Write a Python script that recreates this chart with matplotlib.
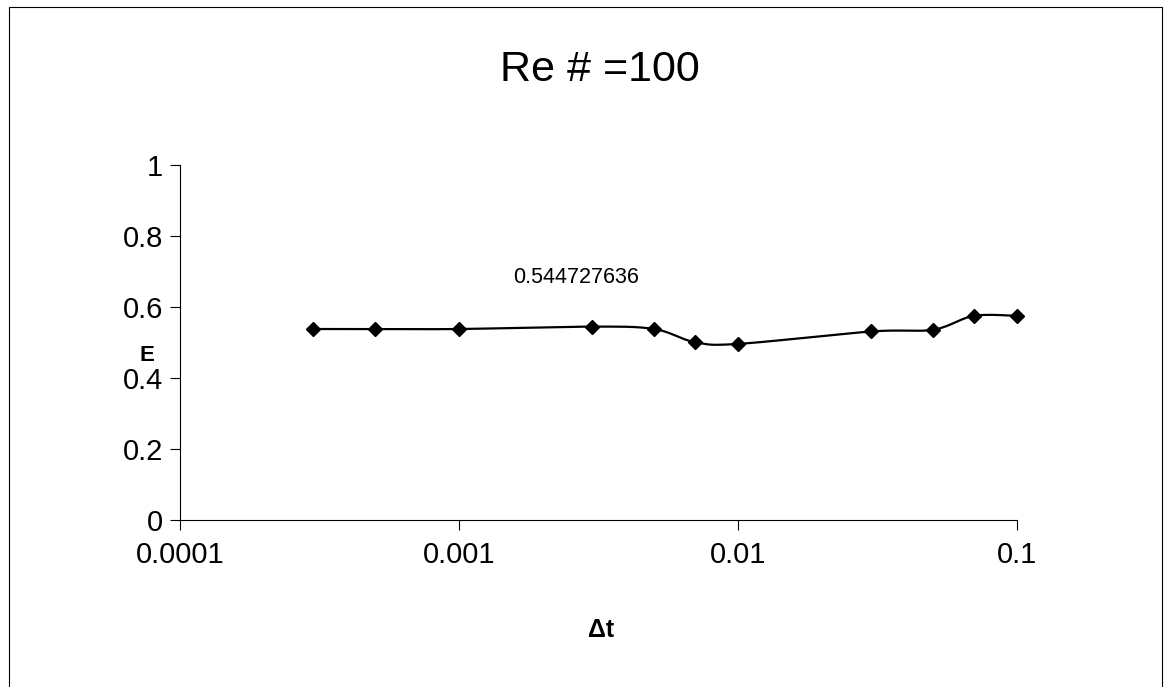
import numpy as np
import matplotlib
matplotlib.use("Agg")
import matplotlib.pyplot as plt
from matplotlib.patches import Rectangle

# Time step sizes and the resulting efficiency E
dt_values = [0.0003, 0.0005, 0.001, 0.003, 0.005, 0.007, 0.01, 0.03, 0.05, 0.07, 0.1]
e_values = [0.538, 0.538, 0.538, 0.544727636, 0.538, 0.501, 0.496, 0.531, 0.536, 0.575, 0.575]
x_ticks = [0.0001, 0.001, 0.01, 0.1]
x_tick_labels = ["0.0001", "0.001", "0.01", "0.1"]
y_ticks = [0, 0.2, 0.4, 0.6, 0.8, 1]
y_tick_labels = ["0", "0.2", "0.4", "0.6", "0.8", "1"]
labelled_index = 3

plt.rcParams["font.family"] = ["Liberation Sans", "DejaVu Sans"]

W, H = 1165, 687
fig = plt.figure(figsize=(W / 100, H / 100), dpi=100)
fig.patch.set_facecolor("white")

# Chart-area border
fig.patches.append(Rectangle((9 / W, -0.01), (1162 - 9) / W, 1 - 7 / H + 0.01,
                             transform=fig.transFigure, fill=False,
                             edgecolor="black", linewidth=0.8))

ax = fig.add_axes([180 / W, 1 - 520 / H, (1017 - 180) / W, (520 - 165) / H])
ax.set_xscale("log")
ax.set_xlim(0.0001, 0.1)
ax.set_ylim(0, 1)


def smooth_curve(xs, ys, n=30):
    """Catmull-Rom style smoothing in log-x space."""
    lx = np.log10(np.asarray(xs, float))
    y = np.asarray(ys, float)
    pts = np.column_stack([lx, y])
    out = []
    for i in range(len(pts) - 1):
        p0 = pts[i - 1] if i > 0 else pts[i]
        p1 = pts[i]
        p2 = pts[i + 1]
        p3 = pts[i + 2] if i + 2 < len(pts) else pts[i + 1]
        c1 = p1 + (p2 - p0) / 6.0
        c2 = p2 - (p3 - p1) / 6.0
        t = np.linspace(0, 1, n)[:, None]
        seg = ((1 - t) ** 3) * p1 + 3 * ((1 - t) ** 2) * t * c1 + 3 * (1 - t) * t ** 2 * c2 + t ** 3 * p2
        out.append(seg if i == 0 else seg[1:])
    seg = np.vstack(out)
    return 10 ** seg[:, 0], seg[:, 1]


sx, sy = smooth_curve(dt_values, e_values)
ax.plot(sx, sy, color="black", linewidth=1.6, zorder=2, clip_on=False)
ax.plot(dt_values, e_values, linestyle="none", marker="D", markersize=7,
        color="black", zorder=3, clip_on=False)

ax.annotate(f"{e_values[labelled_index]:.9f}",
            xy=(dt_values[labelled_index], e_values[labelled_index]),
            xytext=(-16, 49), textcoords="offset pixels",
            ha="center", va="center", fontsize=15.5)

ax.set_xticks(x_ticks)
ax.set_xticklabels(x_tick_labels)
ax.set_yticks(y_ticks)
ax.set_yticklabels(y_tick_labels)
ax.minorticks_off()
ax.tick_params(axis="both", which="major", labelsize=21, length=7, width=0.8,
               direction="out", color="black")
ax.tick_params(axis="x", pad=8)
ax.tick_params(axis="y", pad=5)

for side in ["top", "right"]:
    ax.spines[side].set_visible(False)
for side in ["left", "bottom"]:
    ax.spines[side].set_linewidth(0.8)

fig.text(600 / W, 1 - 70 / H, "Re # =100", fontsize=31, ha="center", va="center")
fig.text(147 / W, 1 - 356 / H, "E", fontsize=16, fontweight="bold",
         ha="center", va="center")
fig.text(601 / W, 1 - 630 / H, "\u0394t", fontsize=18, fontweight="bold",
         ha="center", va="center")

fig.savefig("out.png", dpi=100, facecolor="white")
